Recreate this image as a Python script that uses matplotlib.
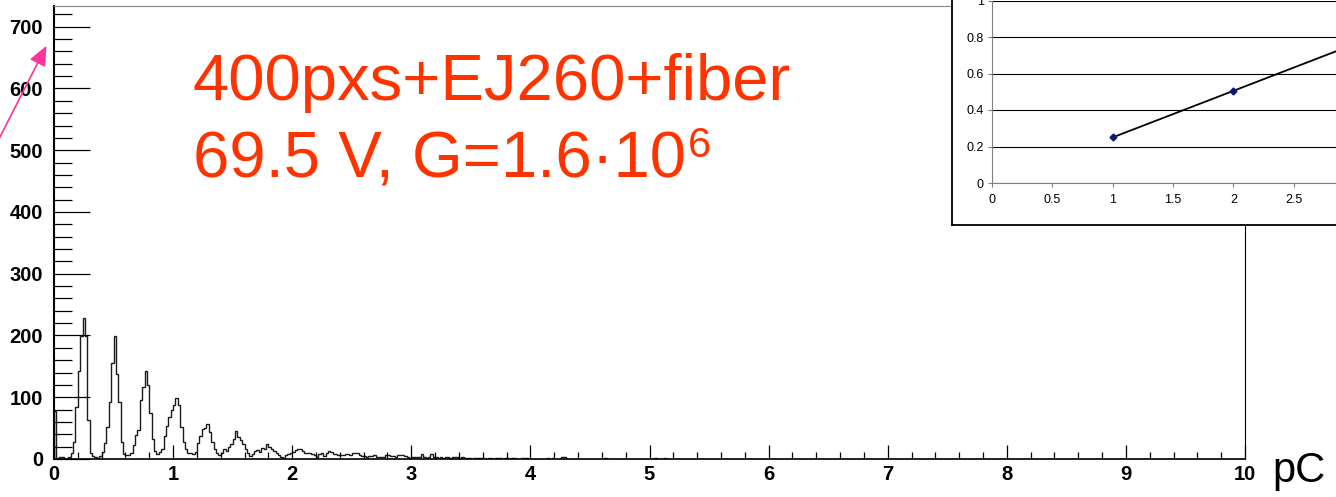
import numpy as np
import matplotlib
matplotlib.use("Agg")
import matplotlib.pyplot as plt
from matplotlib.ticker import MultipleLocator

# charge spectrum, 0.02 pC bins from 0 to 10 pC
bin_width = 0.02
n_bins = 500
counts_low = [
    # 0.00 - 1.00
    78, 2, 3, 3, 0, 0, 3, 9, 28, 85,
    143, 199, 228, 199, 63, 9, 5, 3, 2, 5,
    12, 26, 52, 93, 155, 199, 137, 93, 28, 8,
    6, 6, 9, 23, 39, 47, 95, 117, 143, 120,
    74, 32, 13, 8, 12, 17, 37, 53, 68, 79,
    # 1.00 - 2.00
    88, 99, 87, 52, 28, 16, 10, 9, 8, 11,
    26, 38, 48, 51, 57, 44, 28, 17, 9, 6,
    10, 16, 13, 19, 25, 33, 45, 36, 30, 24,
    16, 9, 5, 8, 13, 15, 12, 18, 17, 25,
    20, 17, 13, 9, 6, 3, 1, 6, 8, 10,
    # 2.00 - 3.00
    12, 15, 16, 16, 13, 10, 9, 9, 8, 6,
    4, 8, 9, 5, 9, 13, 12, 8, 8, 6,
    6, 6, 8, 8, 6, 9, 9, 10, 7, 5,
    5, 4, 5, 5, 6, 4, 4, 3, 4, 6,
    6, 5, 5, 4, 6, 6, 6, 5, 3, 2,
    # 3.00 - 4.00
    3, 3, 4, 3, 8, 4, 2, 3, 8, 4,
    3, 2, 3, 2, 3, 4, 2, 4, 4, 3,
    2, 3, 2, 2, 1, 0, 2, 2, 1, 2,
    1, 0, 1, 1, 0, 1, 1, 1, 0, 1,
    1, 0, 1, 1, 0, 0, 1, 1, 2, 0,
]
# isolated counts above 4 pC: (bin start in pC, count)
sparse_x = [4.14, 4.18, 4.26, 4.28, 4.62, 5.04, 5.12]
sparse_counts = [2, 2, 3, 3, 1, 2, 2]

# inset: peak position vs number of fired pixels
inset_n = [1, 2, 3]
inset_q = [0.25, 0.505, 0.76]
inset_xticks = [0, 0.5, 1, 1.5, 2, 2.5]
inset_yticks = [0, 0.2, 0.4, 0.6, 0.8, 1]

W, H = 1336, 497
fig = plt.figure(figsize=(W / 100, H / 100), dpi=100)

counts = np.zeros(n_bins)
counts[:len(counts_low)] = counts_low
for x, c in zip(sparse_x, sparse_counts):
    counts[int(round(x / bin_width))] = c
edges = np.arange(n_bins + 1) * bin_width

ax = fig.add_axes([54 / W, (H - 459) / H, (1245 - 54) / W, (459 - 5.7) / H])
ax.stairs(counts, edges, baseline=0, color="#1a1a1a", lw=1.0)
ax.set_xlim(0, 10)
ax.set_ylim(0, 734)

ax.xaxis.set_major_locator(MultipleLocator(1))
ax.xaxis.set_minor_locator(MultipleLocator(0.2))
ax.yaxis.set_major_locator(MultipleLocator(100))
ax.yaxis.set_minor_locator(MultipleLocator(20))
ax.tick_params(axis="y", which="major", direction="in", length=26, width=0.9, pad=8)
ax.tick_params(axis="y", which="minor", direction="in", length=13, width=0.9)
ax.tick_params(axis="x", which="major", direction="in", length=10, width=0.9, pad=4)
ax.tick_params(axis="x", which="minor", direction="in", length=5, width=0.9)
for lab in ax.get_xticklabels() + ax.get_yticklabels():
    lab.set_fontfamily("Liberation Sans")
    lab.set_fontweight("bold")
    lab.set_fontsize(14.5)

ax.spines["left"].set_linewidth(1.5)
ax.spines["bottom"].set_linewidth(1.2)
ax.spines["right"].set_linewidth(0.8)
ax.spines["top"].set_linewidth(0.8)
ax.spines["top"].set_color("#888888")

fig.text(1272 / W, (H - 482) / H, "pC", fontsize=30, family="Liberation Sans",
         va="baseline", ha="left")

red = "#ff3300"
title_font = ["Liberation Sans Narrow", "Liberation Sans", "DejaVu Sans"]
fig.text(193 / W, (H - 100) / H, "400pxs+EJ260+fiber", fontsize=47,
         family=title_font, color=red, va="baseline")
t2 = fig.text(193 / W, (H - 177) / H, "69.5 V, G=1.6·10", fontsize=47,
              family=title_font, color=red, va="baseline")
fig.canvas.draw()
bb = t2.get_window_extent()
fig.text((bb.x1 + 2) / W, (H - 157) / H, "6", fontsize=30,
         family=title_font, color=red, va="baseline")

# pink arrow coming in from the left
ax.annotate("", xy=(47.7, H - 43.3), xycoords="figure pixels",
            xytext=(-10, H - 156.6), textcoords="figure pixels",
            arrowprops=dict(arrowstyle="-|>,head_length=0.8,head_width=0.35",
                            mutation_scale=15, color="#ff3399", lw=1.2),
            annotation_clip=False)

# inset box (cropped by the figure edge)
frame = fig.add_axes([952 / W, (H - 225) / H, 500 / W, 300 / H])
frame.set_xticks([])
frame.set_yticks([])
frame.set_facecolor("white")
for s in frame.spines.values():
    s.set_linewidth(1.3)
    s.set_color("black")

ins = fig.add_axes([992 / W, (H - 183) / H, 3.5 * 120.7 / W, 182.5 / H])
ins.set_facecolor("white")
ins.plot(inset_n, inset_q, color="black", lw=1.3, marker="D", ms=3.5,
         mfc="#0a1a6e", mec="#0a1a6e")
ins.set_xlim(0, 3.5)
ins.set_ylim(0, 1)
ins.set_xticks(inset_xticks)
ins.set_xticklabels([f"{v:g}" for v in inset_xticks])
ins.set_yticks(inset_yticks)
ins.set_yticklabels([f"{v:g}" for v in inset_yticks])
ins.yaxis.grid(True, color="black", lw=0.8)
ins.set_axisbelow(True)
ins.tick_params(length=3, width=0.8, color="#808080", pad=3, labelsize=9)
for lab in ins.get_xticklabels() + ins.get_yticklabels():
    lab.set_fontfamily("Liberation Sans")
ins.tick_params(axis="x", pad=5)
ins.spines["top"].set_visible(False)
ins.spines["right"].set_visible(False)
ins.spines["left"].set_color("#808080")
ins.spines["bottom"].set_color("#808080")

fig.savefig("out.png", dpi=100)
